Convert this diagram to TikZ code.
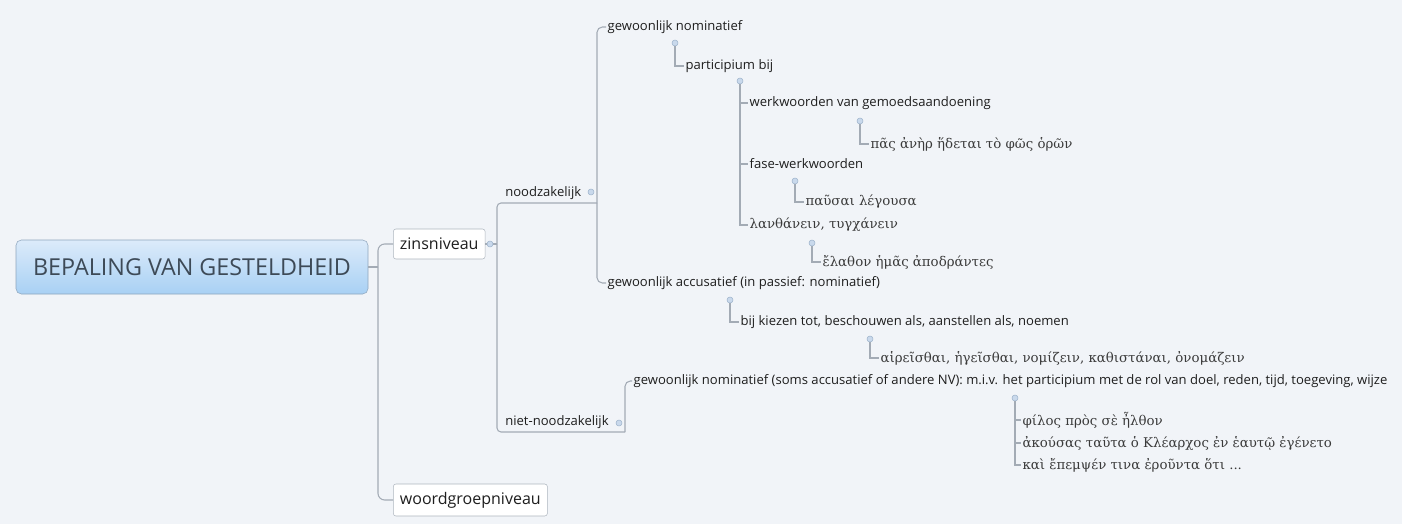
\documentclass[tikz,border=0pt]{standalone}
\usepackage{fontspec}
\setmainfont{Open Sans}
\newfontfamily\greekfont{DejaVu Serif}
\usepackage{xcolor}
\usepackage{tikz}
\definecolor{bgcol}{HTML}{F1F4F8}
\definecolor{linecol}{HTML}{A3ABB5}
\definecolor{boxline}{HTML}{AEB6BF}
\definecolor{maintop}{HTML}{DCEBFA}
\definecolor{mainbot}{HTML}{A8D0F4}
\definecolor{mainline}{HTML}{8FA6BD}
\definecolor{maintext}{HTML}{3D4A57}
\definecolor{txtcol}{HTML}{1E1E1E}
\definecolor{grktext}{HTML}{3A3A3A}
\definecolor{markfill}{HTML}{C9D9EC}
\definecolor{markline}{HTML}{9FB4CC}

\tikzset{
    conn/.style={linecol, line width=0.8pt},
    topic/.style={anchor=west, inner sep=1pt, text=txtcol, font=\fontsize{9.8}{11}\selectfont},
    grk/.style={anchor=west, inner sep=1pt, text=grktext, font=\greekfont\fontsize{10}{12}\selectfont},
    levelbox/.style={anchor=west, draw=boxline, fill=white, rounded corners=2pt, inner xsep=5pt, minimum height=22.5pt, text=txtcol, font=\fontsize{12}{14}\selectfont},
    underl/.style={anchor=south west, inner xsep=0pt, inner ysep=2pt, text=txtcol, font=\fontsize{9.8}{11}\selectfont},
    marker/.style={circle, draw=markline, fill=markfill, line width=0.4pt, inner sep=0pt, minimum size=4.5pt}
}

\begin{document}
\begin{tikzpicture}[x=0.75pt, y=-0.75pt]
        % Background
        \fill[bgcol] (0,0) rectangle (1402,524);
        \useasboundingbox (0,0) rectangle (1402,524);

        % Draw the central topic and the two levels
        \node[draw=mainline, top color=maintop, bottom color=mainbot, rounded corners=4pt, minimum width=264pt, minimum height=40.5pt, text=maintext, font=\fontsize{17.5}{20}\selectfont] (main) at (192,267) {BEPALING VAN GESTELDHEID};
        \node[levelbox] (zins) at (393,244) {zinsniveau};
        \node[levelbox, minimum height=24pt] (woord) at (393,500) {woordgroepniveau};

        \coordinate (mj) at (378,267);
        \draw[conn] (main.east) -- (mj);
        \draw[conn, rounded corners=5pt] (mj) |- (zins.west);
        \draw[conn, rounded corners=5pt] (mj) |- (woord.west);

        % Draw the branches of zinsniveau
        \coordinate (zj) at (497,244);
        \draw[conn] (zins.east) -- (zj);
        \node[marker] (mzins) at (490,244) {};

        \node[underl] (nood) at (505,203) {noodzakelijk};
        \node[underl] (niet) at (505,432) {niet-noodzakelijk};
        \coordinate (nj) at (597,203);
        \coordinate (nnj) at (625,432);
        \draw[conn, rounded corners=3pt] (zj) |- (nood.south west) -- (nj);
        \draw[conn, rounded corners=3pt] (zj) |- (niet.south west) -- (nnj);
        \node[marker] (mnood) at (591,192) {};
        \node[marker] (mniet) at (619,423) {};

        % Draw the children of noodzakelijk
        \node[topic] (gnom) at (606,27) {gewoonlijk nominatief};
        \node[topic] (gacc) at (606,283) {gewoonlijk accusatief (in passief: nominatief)};
        \draw[conn, rounded corners=4pt] (nj) |- (gnom.west);
        \draw[conn, rounded corners=4pt] (nj) |- (gacc.west);

        \node[marker] (m1) at (675,43) {};
        \node[topic] (part) at (684,66) {participium bij};
        \draw[conn] (m1.south) |- (part.west);

        \node[marker] (m2) at (740,81) {};
        \node[topic] (werk) at (748,103) {werkwoorden van gemoedsaandoening};
        \node[topic] (fase) at (748,164) {fase-werkwoorden};
        \node[grk] (lanth) at (748,225) {λανθάνειν, τυγχάνειν};
        \foreach \n in {werk, fase, lanth}
            \draw[conn] (m2.south) |- (\n.west);

        \node[marker] (m3) at (860,121) {};
        \node[grk] (pas) at (869,144) {πᾶς ἀνὴρ ἥδεται τὸ φῶς ὁρῶν};
        \draw[conn] (m3.south) |- (pas.west);

        \node[marker] (m4) at (795,181) {};
        \node[grk] (pausai) at (804,202) {παῦσαι λέγουσα};
        \draw[conn] (m4.south) |- (pausai.west);

        \node[marker] (m5) at (812,243) {};
        \node[grk] (elathon) at (821,262) {ἔλαθον ἡμᾶς ἀποδράντες};
        \draw[conn] (m5.south) |- (elathon.west);

        \node[marker] (m6) at (730,300) {};
        \node[topic] (kiez) at (739,322) {bij kiezen tot, beschouwen als, aanstellen als, noemen};
        \draw[conn] (m6.south) |- (kiez.west);

        \node[marker] (m7) at (870,339) {};
        \node[grk] (hair) at (879,358) {αἱρεῖσθαι, ἡγεῖσθαι, νομίζειν, καθιστάναι, ὀνομάζειν};
        \draw[conn] (m7.south) |- (hair.west);

        % Draw the children of niet-noodzakelijk
        \node[topic] (gnom2) at (632,381) {gewoonlijk nominatief (soms accusatief of andere NV): m.i.v. het participium met de rol van doel, reden, tijd, toegeving, wijze};
        \draw[conn, rounded corners=4pt] (nnj) |- (gnom2.west);

        \node[marker] (m8) at (1015,398) {};
        \node[grk] (filos) at (1021,420) {φίλος πρὸς σὲ ἦλθον};
        \node[grk] (akous) at (1021,443) {ἀκούσας ταῦτα ὁ Κλέαρχος ἐν ἑαυτῷ ἐγένετο};
        \node[grk] (kai) at (1021,465) {καὶ ἔπεμψέν τινα ἐροῦντα ὅτι ...};
        \foreach \n in {filos, akous, kai}
            \draw[conn] (m8.south) |- (\n.west);
\end{tikzpicture}
\end{document}
